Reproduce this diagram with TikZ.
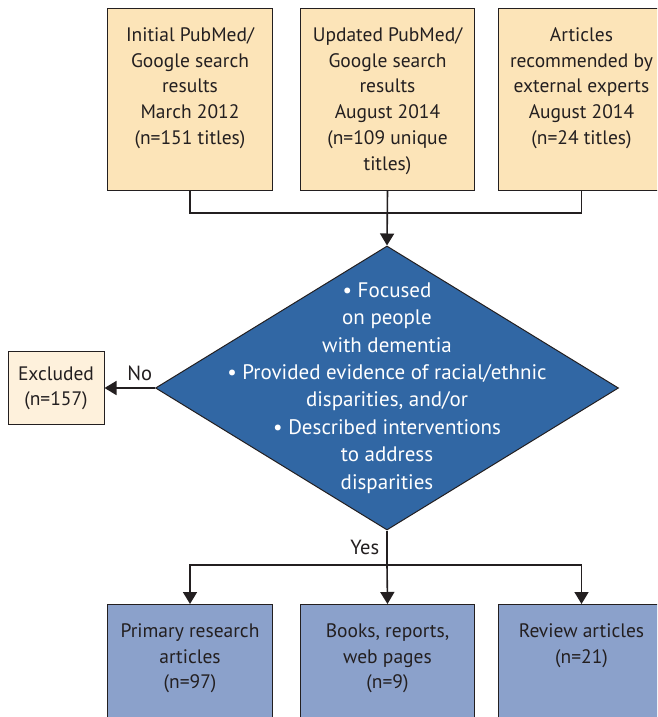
\documentclass[tikz,border=0pt]{standalone}
\usepackage{fontspec}
\setmainfont{PT Sans}
\usetikzlibrary{arrows.meta,positioning,shapes.geometric}
\definecolor{srcfill}{HTML}{FCE4B8}
\definecolor{exclfill}{HTML}{FEF1DC}
\definecolor{checkfill}{HTML}{3167A4}
\definecolor{outfill}{HTML}{8BA1CB}
\definecolor{ink}{HTML}{231F20}
\newcommand\BoxH{182pt}
\newcommand\BoxText[2]{\parbox[t][\BoxH][t]{#1}{\vspace*{19pt}\centering #2}}
\tikzset{
  srcbox/.style={
    draw=ink,
    line width=1pt,
    fill=srcfill,
    inner sep=0pt,
    anchor=north west,
    text=ink,
    font=\fontsize{19.5}{25.8}\selectfont
  },
  outbox/.style={
    srcbox,
    fill=outfill
  },
  exclbox/.style={
    draw=ink,
    line width=1pt,
    fill=exclfill,
    inner sep=0pt,
    align=center,
    minimum width=96pt,
    minimum height=73pt,
    text=ink,
    font=\fontsize{19.5}{25}\selectfont
  },
  checkbox/.style={
    diamond,
    draw=ink,
    line width=1pt,
    fill=checkfill,
    inner sep=0pt,
    minimum width=463pt,
    minimum height=284pt
  },
  checktext/.style={
    align=center,
    text=white,
    inner sep=0pt,
    font=\fontsize{21}{27.4}\selectfont
  },
  conn/.style={
    draw=ink,
    line width=1.6pt
  },
  arrow/.style={
    conn,
    -{Triangle[width=14pt,length=12pt]}
  },
  branch/.style={
    text=ink,
    inner sep=2pt,
    font=\fontsize{20.5}{22}\selectfont
  }
}

\begin{document}
\begin{tikzpicture}[x=1pt,y=-1pt]
        \useasboundingbox (0,0) rectangle (657,717);
        \clip (0,0) rectangle (657,717);

        % sources
        \node[srcbox] (init) at (107,8) {\BoxText{165pt}{Initial PubMed/\\Google search\\results\\March 2012\\(n=151 titles)}};
        \node[srcbox] (upd) at (300,8) {\BoxText{174pt}{Updated PubMed/\\Google search\\results\\August 2014\\(n=109 unique\\titles)}};
        \node[srcbox] (recom) at (498,8) {\BoxText{166pt}{Articles\\recommended by\\external experts\\August 2014\\(n=24 titles)}};

        % screening
        \node[checkbox] (check) at (387,388) {};
        \node[checktext] (criteria) at (check.center) {%
            • Focused\\on people\\with dementia\\
            • Provided evidence of racial/ethnic\\disparities, and/or\\
            • Described interventions\\to address\\disparities};
        \node[exclbox] (excl) at (56,388) {Excluded\\(n=157)};

        % results
        \node[outbox] (primary) at (107,604) {\BoxText{165pt}{Primary research\\articles\\(n=97)}};
        \node[outbox] (books) at (300,604) {\BoxText{174pt}{Books, reports,\\web pages\\(n=9)}};
        \node[outbox] (review) at (498,604) {\BoxText{166pt}{Review articles\\(n=21)}};

        \coordinate (merge) at (387,213);
        \coordinate (split) at (387,565);

        \draw[conn] (init.south) |- (merge) -| (recom.south);
        \draw[arrow] (upd.south) -- (check.north);

        \draw[arrow] (check.west) -- (excl.east) node[branch, pos=0, above left=4pt and 0pt] {No};

        \draw[conn] (check.south) -- node[branch, left=5pt] {Yes} (split);
        \draw[arrow] (split) -| (primary.north);
        \draw[arrow] (split) -- (books.north);
        \draw[arrow] (split) -| (review.north);
\end{tikzpicture}
\end{document}
